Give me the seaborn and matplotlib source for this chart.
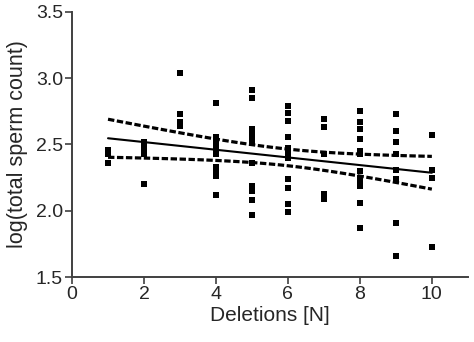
import numpy as np
import pandas as pd
import matplotlib
matplotlib.use("Agg")
import matplotlib.pyplot as plt
import seaborn as sns

# Data
deletions = [1, 2, 3, 4, 5, 6, 7, 8, 9, 10]
counts = [
    [2.46, 2.43, 2.36],
    [2.52, 2.47, 2.43, 2.20],
    [3.04, 2.73, 2.67, 2.64],
    [2.81, 2.56, 2.52, 2.50, 2.46, 2.43, 2.33, 2.30, 2.26, 2.12],
    [2.91, 2.85, 2.62, 2.59, 2.55, 2.51, 2.36, 2.19, 2.15, 2.08, 1.97],
    [2.79, 2.74, 2.68, 2.56, 2.47, 2.43, 2.40, 2.24, 2.17, 2.05, 1.99],
    [2.69, 2.63, 2.43, 2.13, 2.09],
    [2.75, 2.67, 2.62, 2.54, 2.45, 2.43, 2.30, 2.25, 2.22, 2.19, 2.06, 1.87],
    [2.73, 2.60, 2.52, 2.43, 2.31, 2.24, 1.91, 1.66],
    [2.57, 2.31, 2.25, 1.73],
]
x_ticks = [0, 2, 4, 6, 8, 10]
y_ticks = [1.5, 2.0, 2.5, 3.0, 3.5]

xs, ys = [], []
for d, vals in zip(deletions, counts):
    for v in vals:
        xs.append(d)
        ys.append(v)
df = pd.DataFrame({"Deletions": xs, "logcount": ys})

sns.set_style("ticks")
plt.rcParams["font.family"] = ["Liberation Sans", "DejaVu Sans"]

fig = plt.figure(figsize=(4.74, 3.42), dpi=100)
ax = fig.add_axes([0.152, 0.190, 0.835, 0.775])

sns.regplot(data=df, x="Deletions", y="logcount", ax=ax, ci=None,
            marker="s",
            scatter_kws=dict(s=15, color="black", linewidths=0, alpha=1),
            line_kws=dict(color="black", lw=1.5))

# 95% confidence band of the regression line
x = df["Deletions"].to_numpy(float)
y = df["logcount"].to_numpy(float)
n = len(x)
b, a = np.polyfit(x, y, 1)
resid = y - (a + b * x)
s = np.sqrt(np.sum(resid ** 2) / (n - 2))
sxx = np.sum((x - x.mean()) ** 2)
xg = np.linspace(x.min(), x.max(), 100)
yg = a + b * xg
half = 1.994 * s * np.sqrt(1 / n + (xg - x.mean()) ** 2 / sxx)
band = pd.DataFrame({"x": np.concatenate([xg, xg]),
                     "y": np.concatenate([yg + half, yg - half]),
                     "side": ["upper"] * len(xg) + ["lower"] * len(xg)})
for side in ["upper", "lower"]:
    sub = band[band["side"] == side]
    sns.lineplot(data=sub, x="x", y="y", ax=ax, color="black", lw=2.3,
                 linestyle=(0, (2.0, 0.8)), estimator=None, sort=True)

ax.set_xlim(0, 11)
ax.set_ylim(1.5, 3.5)
ax.set_xticks(x_ticks)
ax.set_yticks(y_ticks)
ax.set_yticklabels([f"{t:.1f}" for t in y_ticks])
ax.set_xlabel("Deletions [N]", fontsize=15, labelpad=2)
ax.set_ylabel("log(total sperm count)", fontsize=15.5, labelpad=6)
ax.tick_params(axis="both", labelsize=14, length=5, width=1.2,
               color="#404040", direction="out", pad=1.5)
for side in ["top", "right"]:
    ax.spines[side].set_visible(False)
for side in ["left", "bottom"]:
    ax.spines[side].set_color("#404040")
    ax.spines[side].set_linewidth(1.4)

fig.savefig("out.png", dpi=100)
